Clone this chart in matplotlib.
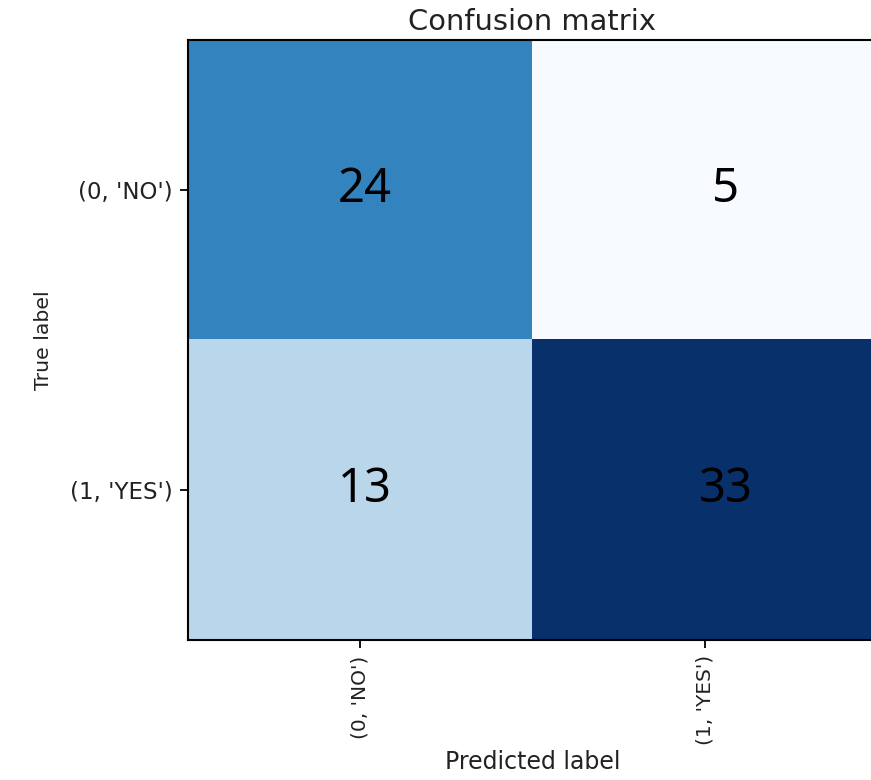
import matplotlib
matplotlib.use("Agg")
import matplotlib.pyplot as plt
import numpy as np

classes = ["(0, 'NO')", "(1, 'YES')"]
cm = np.array([[24, 5],
               [13, 33]])
# horizontal nudge (points) of the count text per column
col_shift = [3, 15]

W, H = 871, 780
fig = plt.figure(figsize=(W / 100, H / 100), dpi=100)
ax = fig.add_axes([188 / W, 1 - 640 / H, 689 / W, 600 / H])

ax.imshow(cm, interpolation="nearest", cmap=plt.cm.Blues, aspect="auto")
ax.set_title("Confusion matrix", fontsize=20.8, pad=7, color="#222")

ticks = np.arange(len(classes))
ax.set_xticks(ticks)
ax.set_xticklabels(classes, rotation=90, fontsize=14.5, color="#222")
ax.set_yticks(ticks)
ax.set_yticklabels(classes, fontsize=16.5, color="#222")
ax.tick_params(length=6, width=1.3, pad=5)
for s in ax.spines.values():
    s.set_linewidth(1.5)

for i in range(cm.shape[0]):
    for j in range(cm.shape[1]):
        ax.annotate(str(cm[i, j]), (j, i), xytext=(col_shift[j], 0),
                    textcoords="offset points", ha="center", va="center",
                    color="black", fontsize=34, family="Noto Sans")

ax.set_ylabel("True label", fontsize=14.7, labelpad=12, color="#222")
ax.set_xlabel("Predicted label", fontsize=17, labelpad=3, color="#222")

fig.savefig("out.png", dpi=100)
